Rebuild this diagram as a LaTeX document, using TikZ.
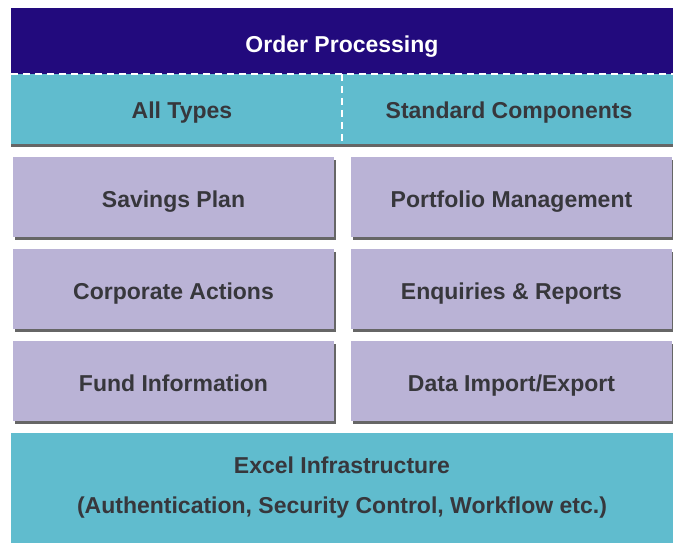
\documentclass[tikz,border=0pt]{standalone}
\usepackage{fontspec}
\setmainfont{Liberation Sans}
\usetikzlibrary{shadows}

\definecolor{navybar}{RGB}{34,10,125}
\definecolor{tealband}{RGB}{96,188,206}
\definecolor{lilacbox}{RGB}{186,179,214}
\definecolor{textgray}{RGB}{55,55,60}

\tikzset{
    layer/.style={anchor=north west, minimum width=662pt, align=center},
    module/.style={anchor=north west, minimum width=321pt, minimum height=80pt, fill=lilacbox,
        text height=20pt, text depth=0pt,
        drop shadow={shadow xshift=2pt, shadow yshift=-3pt, fill=black!70, opacity=.85}},
    divider/.style={white, line width=2.5pt, dash pattern=on 7pt off 5pt}
}

\begin{document}
\begin{tikzpicture}[x=1pt, y=-1pt, every node/.style={inner sep=0pt, outer sep=0pt, font=\fontsize{23}{40}\selectfont\bfseries, text=textgray}]
    \useasboundingbox[fill=white] (0,0) rectangle (673,543);

    \node[layer, fill=navybar, minimum height=66pt] (order) at (11,8) {};
    \node[anchor=base, text=white] (ordertxt) at (342,53) {Order Processing};
    \node[layer, fill=tealband, minimum height=70pt,
        drop shadow={shadow xshift=0pt, shadow yshift=-3pt, fill=black!70, opacity=.85}] (types) at (11,74) {};
    \node[anchor=base] (alltypes) at (182,118) {All Types};
    \node[anchor=base] (stdcomp) at (509,118) {Standard Components};
    \draw[divider] (types.north west) -- (types.north east);
    \draw[divider] (types.north) -- (types.south);

    \node[module] (savings) at (13,157) {Savings Plan};
    \node[module] (portfolio) at (351,157) {Portfolio Management};
    \node[module] (corporate) at (13,249) {Corporate Actions};
    \node[module] (enquiries) at (351,249) {Enquiries \& Reports};
    \node[module] (fund) at (13,341) {Fund Information};
    \node[module] (dataio) at (351,341) {Data Import/Export};

    \node[layer, fill=tealband, minimum height=110pt] (excel) at (11,433)
        {Excel Infrastructure\\(Authentication, Security Control, Workflow etc.)};
\end{tikzpicture}
\end{document}
